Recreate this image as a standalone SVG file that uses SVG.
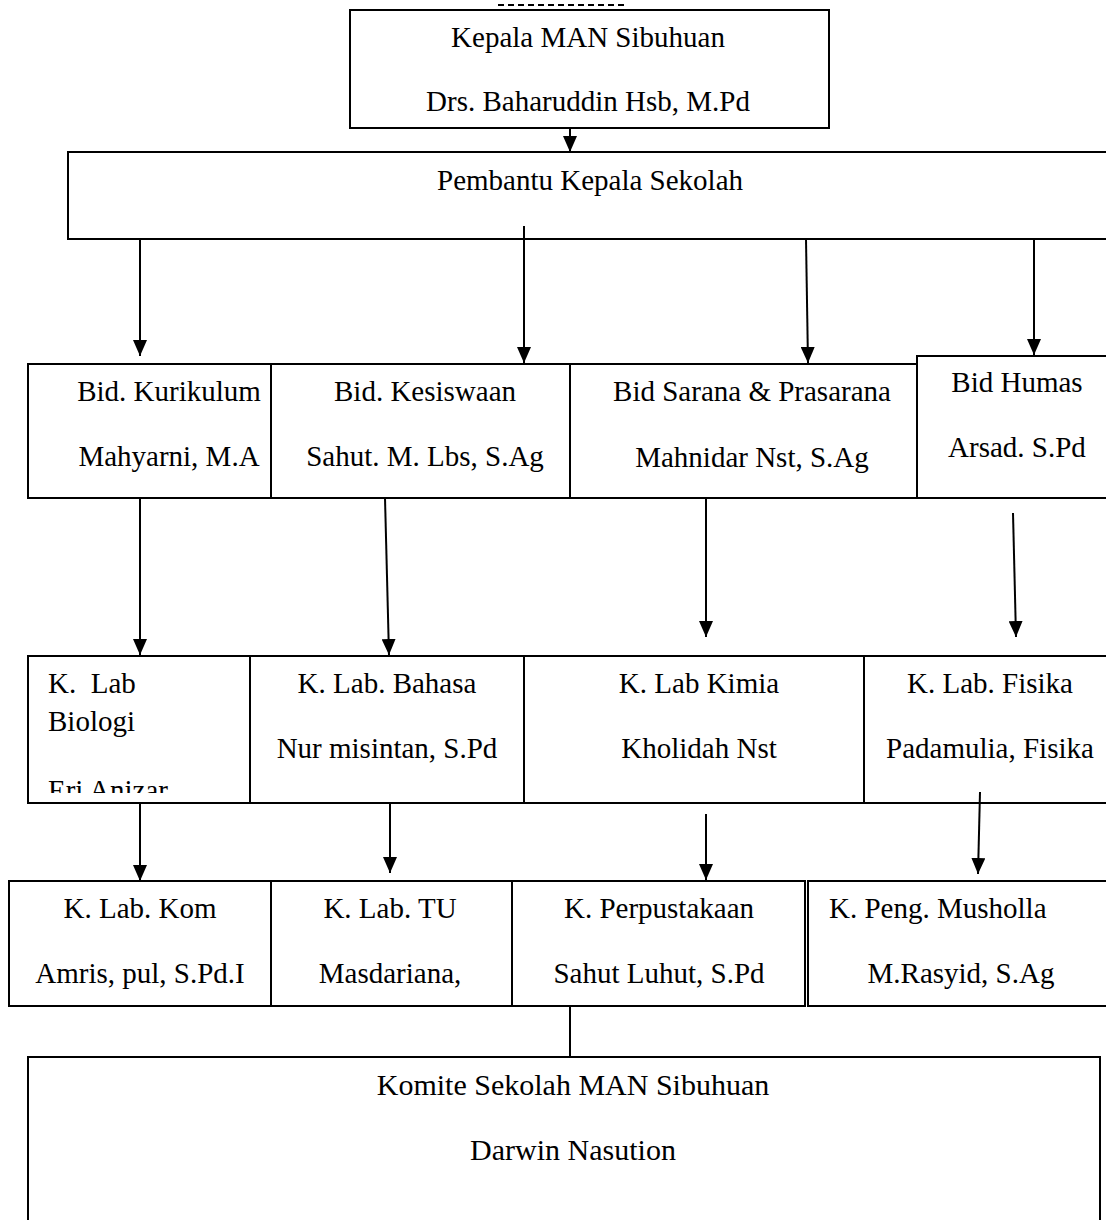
<svg xmlns="http://www.w3.org/2000/svg" width="1106" height="1220" viewBox="0 0 1106 1220">
<style>
  .box { fill: #ffffff; stroke: #000000; stroke-width: 2; }
  .t { font-family: "Liberation Serif", "Times New Roman", serif; font-size: 29px; fill: #000000; }
  .c { text-anchor: middle; }
  .big { font-size: 30px; }
  .conn { stroke: #000000; stroke-width: 2; fill: none; }
  .arr { marker-end: url(#ah); }
</style>
<defs>
  <marker id="ah" viewBox="0 0 16 14" refX="16" refY="7" markerWidth="16" markerHeight="14" markerUnits="userSpaceOnUse" orient="auto">
    <path d="M0,0 L16,7 L0,14 z" fill="#000000"/>
  </marker>
  <clipPath id="clipBio">
    <rect x="28" y="656" width="222" height="137"/>
  </clipPath>
</defs>
<rect width="1106" height="1220" fill="#ffffff"/>

<line x1="498" y1="5" x2="627" y2="5" stroke="#000000" stroke-width="2" stroke-dasharray="6,4"/>

<g id="node-kepala">
  <rect class="box" x="350" y="10" width="479" height="118"/>
  <text class="t c" x="588" y="47">Kepala MAN Sibuhuan</text>
  <text class="t c" x="588" y="111">Drs. Baharuddin Hsb, M.Pd</text>
</g>

<g id="node-pembantu">
  <rect class="box" x="68" y="152" width="1060" height="87"/>
  <text class="t" x="437" y="190">Pembantu Kepala Sekolah</text>
</g>

<g id="node-kurikulum">
  <rect class="box" x="28" y="364" width="243" height="134"/>
  <text class="t c" x="169" y="401">Bid. Kurikulum</text>
  <text class="t c" x="169" y="466">Mahyarni, M.A</text>
</g>

<g id="node-kesiswaan">
  <rect class="box" x="271" y="364" width="299" height="134"/>
  <text class="t c" x="425" y="401">Bid. Kesiswaan</text>
  <text class="t c" x="425" y="466">Sahut. M. Lbs, S.Ag</text>
</g>

<g id="node-sarana">
  <rect class="box" x="570" y="364" width="347" height="134"/>
  <text class="t c" x="752" y="401">Bid Sarana &amp; Prasarana</text>
  <text class="t c" x="752" y="467">Mahnidar Nst, S.Ag</text>
</g>

<g id="node-humas">
  <rect class="box" x="917" y="356" width="210" height="142"/>
  <text class="t c" x="1017" y="392">Bid Humas</text>
  <text class="t c" x="1017" y="457">Arsad. S.Pd</text>
</g>

<g id="node-biologi">
  <rect class="box" x="28" y="656" width="222" height="147"/>
  <g clip-path="url(#clipBio)">
    <text class="t" x="48" y="693" xml:space="preserve">K.  Lab</text>
    <text class="t" x="48" y="731">Biologi</text>
    <text class="t" x="48" y="800">Eri Anizar</text>
  </g>
</g>

<g id="node-bahasa">
  <rect class="box" x="250" y="656" width="274" height="147"/>
  <text class="t c" x="387" y="693">K. Lab. Bahasa</text>
  <text class="t c" x="387" y="758">Nur misintan, S.Pd</text>
</g>

<g id="node-kimia">
  <rect class="box" x="524" y="656" width="340" height="147"/>
  <text class="t c" x="699" y="693">K. Lab Kimia</text>
  <text class="t c" x="699" y="758">Kholidah Nst</text>
</g>

<g id="node-fisika">
  <rect class="box" x="864" y="656" width="263" height="147"/>
  <text class="t c" x="990" y="693">K. Lab. Fisika</text>
  <text class="t c" x="990" y="758">Padamulia, Fisika</text>
</g>

<g id="node-kom">
  <rect class="box" x="9" y="881" width="262" height="125"/>
  <text class="t c" x="140" y="918">K. Lab. Kom</text>
  <text class="t c" x="140" y="983">Amris, pul, S.Pd.I</text>
</g>

<g id="node-tu">
  <rect class="box" x="271" y="881" width="241" height="125"/>
  <text class="t c" x="390" y="918">K. Lab. TU</text>
  <text class="t c" x="390" y="983">Masdariana,</text>
</g>

<g id="node-perpustakaan">
  <rect class="box" x="512" y="881" width="293" height="125"/>
  <text class="t c" x="659" y="918">K. Perpustakaan</text>
  <text class="t c" x="659" y="983">Sahut Luhut, S.Pd</text>
</g>

<g id="node-musholla">
  <rect class="box" x="808" y="881" width="319" height="125"/>
  <text class="t" x="829" y="918">K. Peng. Musholla</text>
  <text class="t c" x="961" y="983">M.Rasyid, S.Ag</text>
</g>

<g id="node-komite">
  <rect class="box" x="28" y="1057" width="1072" height="200"/>
  <text class="t c big" x="573" y="1095">Komite Sekolah MAN Sibuhuan</text>
  <text class="t c big" x="573" y="1160">Darwin Nasution</text>
</g>

<g id="connectors">
  <line class="conn arr" x1="570" y1="128" x2="570" y2="152"/>
  <line class="conn arr" x1="140" y1="239" x2="140" y2="356"/>
  <line class="conn arr" x1="524" y1="226" x2="524" y2="363"/>
  <line class="conn arr" x1="806" y1="239" x2="808" y2="363"/>
  <line class="conn arr" x1="1034" y1="239" x2="1034" y2="355"/>
  <line class="conn arr" x1="140" y1="498" x2="140" y2="655"/>
  <line class="conn arr" x1="385" y1="498" x2="389" y2="655"/>
  <line class="conn arr" x1="706" y1="498" x2="706" y2="637"/>
  <line class="conn arr" x1="1013" y1="513" x2="1016" y2="637"/>
  <line class="conn arr" x1="140" y1="803" x2="140" y2="881"/>
  <line class="conn arr" x1="390" y1="803" x2="390" y2="873"/>
  <line class="conn arr" x1="706" y1="814" x2="706" y2="880"/>
  <line class="conn arr" x1="980" y1="792" x2="978" y2="874"/>
  <line class="conn" x1="570" y1="1006" x2="570" y2="1057"/>
</g>
</svg>
